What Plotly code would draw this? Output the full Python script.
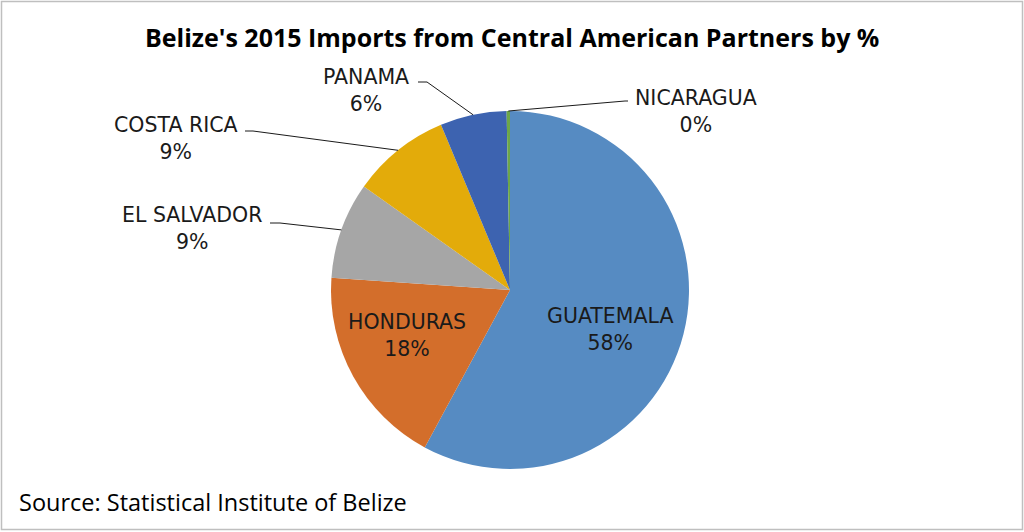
import math
import plotly.graph_objects as go

# ---- data ----
countries = ["GUATEMALA", "HONDURAS", "EL SALVADOR", "COSTA RICA", "PANAMA", "NICARAGUA"]
shares = [57.9, 18.2, 8.7, 8.9, 6.0, 0.3]
colors = ["#568BC2", "#D36E2B", "#A6A6A6", "#E3AB0A", "#3D63B0", "#6DA64A"]

W, H = 1024, 532
CX, CY, R = 510, 290, 179  # pie centre / radius in px

def px(x):
    return x / W

def py(y):
    return 1 - y / H

fig = go.Figure(go.Pie(
    labels=countries,
    values=shares,
    sort=False,
    direction="clockwise",
    rotation=0,
    marker=dict(colors=colors, line=dict(width=0)),
    textinfo="none",
    hoverinfo="label+percent",
    showlegend=False,
    domain=dict(x=[px(CX - R), px(CX + R)], y=[py(CY + R), py(CY - R)]),
))

total = sum(shares)
pct = [f"{round(100 * v / total)}%" for v in shares]

# mid-angle of each slice (clockwise from 12 o'clock)
mids = []
cum = 0
for v in shares:
    mids.append((cum + v / 2) / total * 2 * math.pi)
    cum += v

def edge(i):
    a = mids[i]
    return CX + R * math.sin(a), CY - R * math.cos(a)

font = dict(family="DejaVu Sans", size=20.5, color="#1a1a1a")

# label text positions (px)
label_pos = {
    0: (610, 329, None),
    1: (407, 335, None),
    2: (192, 228, (270, 223, 280)),
    3: (176, 138, (245, 131, 253)),
    4: (366, 91, (418, 82, 427)),
    5: (696, 111, (628, 101, 625)),
}

annotations = []
shapes = []
for i, (x, y, lead) in label_pos.items():
    annotations.append(dict(
        x=px(x), y=py(y), xref="paper", yref="paper",
        text=f"{countries[i]}<br>{pct[i]}", showarrow=False,
        font=font, align="center", xanchor="center", yanchor="middle",
    ))
    if lead:
        lx, ly, lx2 = lead
        ex, ey = edge(i)
        shapes.append(dict(type="line", xref="paper", yref="paper",
                           x0=px(lx), y0=py(ly), x1=px(lx2), y1=py(ly),
                           line=dict(color="#1a1a1a", width=1)))
        shapes.append(dict(type="line", xref="paper", yref="paper",
                           x0=px(lx2), y0=py(ly), x1=px(ex), y1=py(ey),
                           line=dict(color="#1a1a1a", width=1)))

annotations.append(dict(
    x=px(512), y=py(37), xref="paper", yref="paper",
    text="<b>Belize's 2015 Imports from Central American Partners by %</b>",
    showarrow=False, font=dict(family="Open Sans", size=25, color="#000000"),
    xanchor="center", yanchor="middle",
))
annotations.append(dict(
    x=px(17), y=py(502), xref="paper", yref="paper",
    text="Source: Statistical Institute of Belize",
    showarrow=False, font=dict(family="Open Sans", size=23.5, color="#000000"),
    xanchor="left", yanchor="middle",
))

shapes.append(dict(type="rect", xref="paper", yref="paper",
                   x0=px(1.5), y0=py(529.5), x1=px(1022.5), y1=py(1.5),
                   line=dict(color="#BFBFBF", width=1.5)))

fig.update_layout(
    width=W, height=H,
    margin=dict(l=0, r=0, t=0, b=0),
    paper_bgcolor="white",
    plot_bgcolor="white",
    annotations=annotations,
    shapes=shapes,
)

fig.write_html(
    "out.html",
    config={"displayModeBar": False},
    post_script="document.body.style.margin='0';document.body.style.overflow='hidden';",
)
